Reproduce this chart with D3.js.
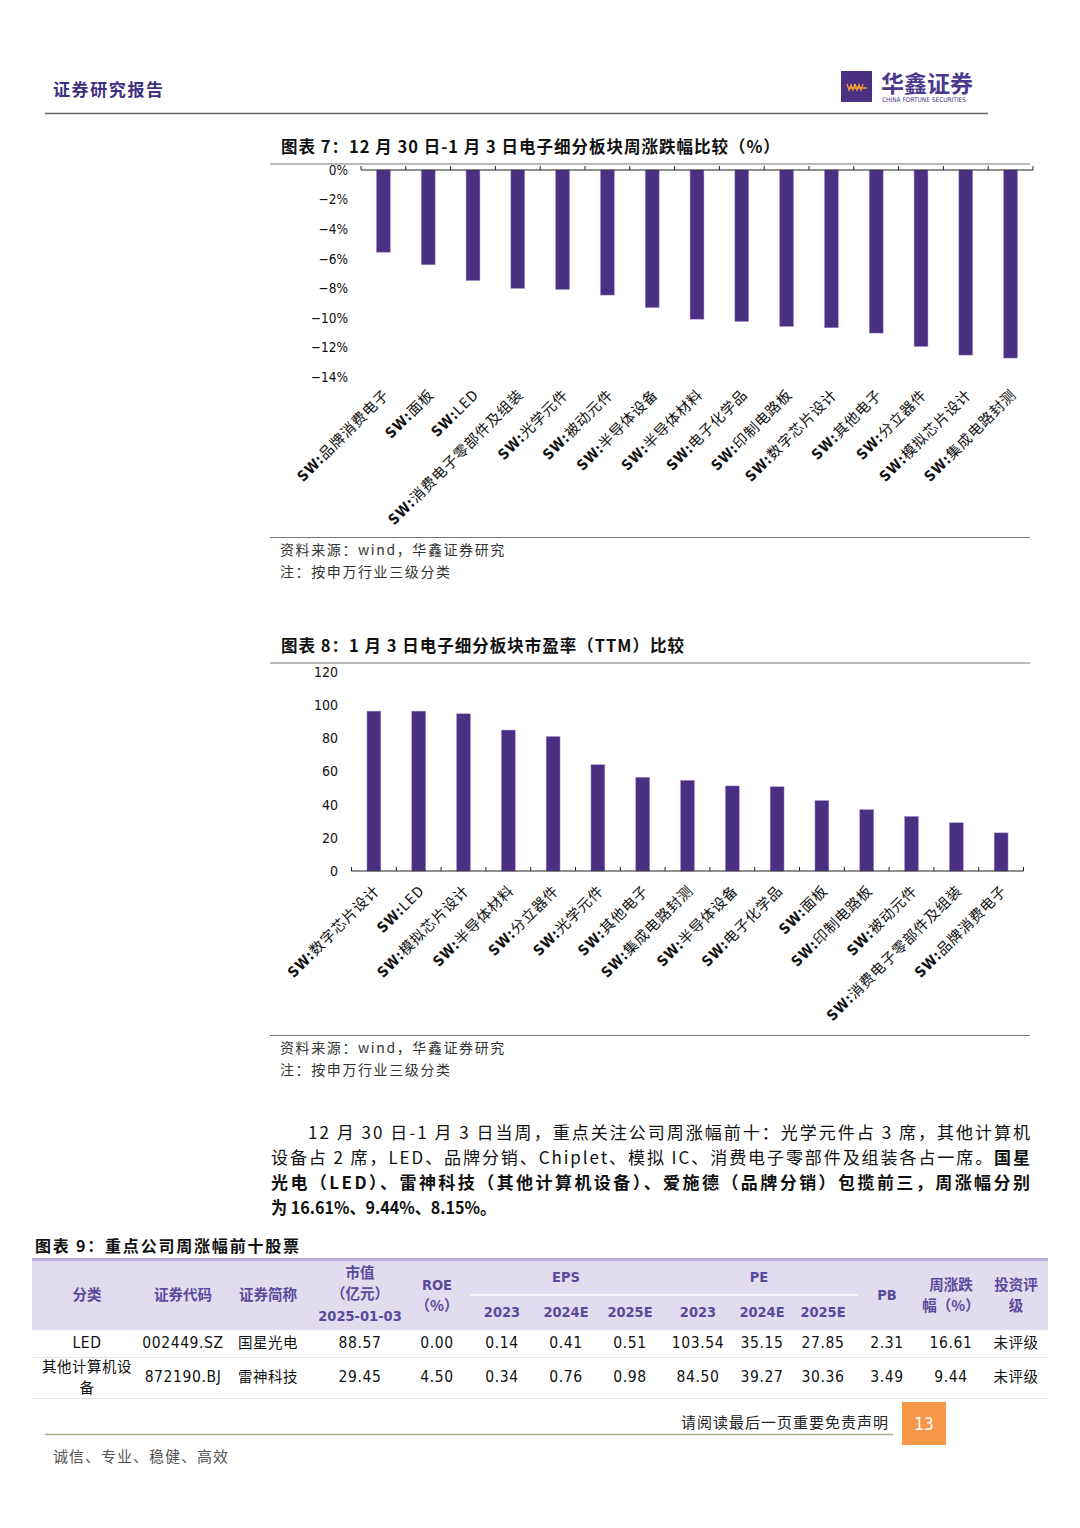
<!DOCTYPE html>
<html>
<head>
<meta charset="utf-8">
<script src="https://cdn.jsdelivr.net/npm/d3@7"></script>
<style>
  body { margin: 0; background: #fff; }
  svg { display: block; }
  .cjk { font-family: "Noto Sans CJK SC", sans-serif; }
  .num { font-family: "Liberation Sans Narrow", "DejaVu Sans Condensed", "Liberation Sans", sans-serif; }
</style>
</head>
<body>
<div id="page"></div>
<script>
// 图表7 周涨跌幅 (%)
var weekCats = ["品牌消费电子", "面板", "LED", "消费电子零部件及组装", "光学元件", "被动元件",
    "半导体设备", "半导体材料", "电子化学品", "印制电路板", "数字芯片设计", "其他电子",
    "分立器件", "模拟芯片设计", "集成电路封测"];
var weekVals = [-5.56, -6.41, -7.48, -8.01, -8.08, -8.46, -9.31, -10.09, -10.25, -10.58,
    -10.67, -11.03, -11.94, -12.52, -12.72];
var weekTicks = [0, -2, -4, -6, -8, -10, -12, -14];

// 图表8 市盈率 TTM
var peCats = ["数字芯片设计", "LED", "模拟芯片设计", "半导体材料", "分立器件", "光学元件",
    "其他电子", "集成电路封测", "半导体设备", "电子化学品", "面板", "印制电路板",
    "被动元件", "消费电子零部件及组装", "品牌消费电子"];
var peVals = [96.4, 96.4, 94.8, 85.0, 81.1, 64.1, 56.5, 54.7, 51.3, 50.8, 42.5, 37.0, 32.9, 29.1, 23.0];
var peTicks = [0, 20, 40, 60, 80, 100, 120];

// 图表9 表格
var tableRows = [
    ["LED", "002449.SZ", "国星光电", "88.57", "0.00", "0.14", "0.41", "0.51", "103.54", "35.15", "27.85", "2.31", "16.61", "未评级"],
    ["其他计算机设备", "872190.BJ", "雷神科技", "29.45", "4.50", "0.34", "0.76", "0.98", "84.50", "39.27", "30.36", "3.49", "9.44", "未评级"]
];
var subYears = ["2023", "2024E", "2025E"];

var purple = "#4b2f82";
var W = 1080, H = 1528;

var svg = d3.select("#page").append("svg")
    .attr("width", W)
    .attr("height", H);
svg.append("rect").attr("width", W).attr("height", H).attr("fill", "#fff");

// ---------- header ----------
svg.append("text").attr("class", "cjk")
    .attr("x", 53).attr("y", 96)
    .attr("font-size", 17).attr("font-weight", "bold")
    .attr("letter-spacing", 1.6)
    .attr("fill", "#3d3080")
    .text("证券研究报告");
svg.append("line").attr("x1", 45).attr("x2", 988).attr("y1", 113.5).attr("y2", 113.5)
    .attr("stroke", "#666").attr("stroke-width", 1.5);

svg.append("rect").attr("x", 841).attr("y", 71).attr("width", 31).attr("height", 31).attr("fill", purple);
svg.append("path")
    .attr("d", "M847,84 l2,6 l2,-5 l2,5 l2,-6 M855,84 l2,6 l2,-5 l2,5 l2,-6 M849,88 h18")
    .attr("fill", "none").attr("stroke", "#f0a030").attr("stroke-width", 1.4);
svg.append("text").attr("class", "cjk")
    .attr("x", 881).attr("y", 92)
    .attr("font-size", 23).attr("font-weight", "bold")
    .attr("fill", "#4b3a8c")
    .text("华鑫证券");
svg.append("text").attr("class", "num")
    .attr("x", 882).attr("y", 102)
    .attr("font-size", 6.5)
    .attr("fill", "#4b3a8c")
    .text("CHINA FORTUNE SECURITIES");

// ---------- chart helpers ----------
function chartTitle(y, txt) {
    svg.append("text").attr("class", "cjk")
        .attr("x", 281).attr("y", y)
        .attr("font-size", 16.5).attr("font-weight", "bold")
        .attr("letter-spacing", 1)
        .attr("fill", "#111")
        .text(txt);
    svg.append("line").attr("x1", 270).attr("x2", 1030).attr("y1", y + 11).attr("y2", y + 11)
        .attr("stroke", "#777").attr("stroke-width", 1.2);
}

function sourceNote(y) {
    svg.append("line").attr("x1", 270).attr("x2", 1030).attr("y1", y).attr("y2", y)
        .attr("stroke", "#777").attr("stroke-width", 1.2);
    svg.append("text").attr("class", "cjk")
        .attr("x", 280).attr("y", y + 17)
        .attr("font-size", 14).attr("fill", "#333")
        .attr("letter-spacing", 1.6)
        .text("资料来源：wind，华鑫证券研究");
    svg.append("text").attr("class", "cjk")
        .attr("x", 280).attr("y", y + 39)
        .attr("font-size", 14).attr("fill", "#333")
        .attr("letter-spacing", 1.6)
        .text("注：按申万行业三级分类");
}

function catLabels(g, cats, x, ly) {
    var lab = g.selectAll(".lab").data(cats).enter().append("text")
        .attr("class", "lab cjk")
        .attr("text-anchor", "end")
        .attr("transform", function(d) {
            return "translate(" + (x(d) + x.bandwidth() / 2 + 3) + "," + ly + ") rotate(-45)";
        })
        .attr("dy", "0.35em")
        .attr("font-size", 14.5)
        .attr("letter-spacing", 0.8)
        .attr("fill", "#111");
    lab.append("tspan").attr("font-weight", "bold").attr("class", "num").text("SW:");
    lab.append("tspan").text(function(d) { return d; });
}

// ---------- chart 7 ----------
chartTitle(153, "图表 7：12 月 30 日-1 月 3 日电子细分板块周涨跌幅比较（%）");

var x1 = d3.scaleBand().domain(weekCats).range([361, 1033]);
var y1 = d3.scaleLinear().domain([-14, 0]).range([377, 170]);
var g1 = svg.append("g");
var barW = x1.step() * 0.31;

g1.append("g")
    .attr("transform", "translate(361,0)")
    .attr("class", "num")
    .call(d3.axisLeft(y1).tickValues(weekTicks).tickSize(0).tickPadding(13)
        .tickFormat(function(d) { return d3.format("d")(d) + "%"; }))
    .call(function(a) {
        a.select(".domain").remove();
        a.selectAll("text").attr("font-size", 13.5).attr("fill", "#111")
            .attr("font-family", "Liberation Sans Narrow, DejaVu Sans Condensed, sans-serif");
    });

g1.selectAll(".bar").data(weekVals).enter().append("rect")
    .attr("x", function(d, i) { return x1(weekCats[i]) + (x1.bandwidth() - barW) / 2; })
    .attr("y", y1(0))
    .attr("width", barW)
    .attr("height", function(d) { return y1(d) - y1(0); })
    .attr("fill", purple)
    .attr("stroke", "#a594d0").attr("stroke-width", 0.5);

g1.append("line").attr("x1", x1.range()[0]).attr("x2", x1.range()[1])
    .attr("y1", y1(0)).attr("y2", y1(0)).attr("stroke", "#222").attr("stroke-width", 1.2);
g1.selectAll(".tk").data(weekCats.concat(["end"])).enter().append("line")
    .attr("x1", function(d, i) { return x1.range()[0] + i * x1.step(); })
    .attr("x2", function(d, i) { return x1.range()[0] + i * x1.step(); })
    .attr("y1", y1(0)).attr("y2", y1(0) - 4)
    .attr("stroke", "#222").attr("stroke-width", 1);

catLabels(g1, weekCats, x1, 392);
sourceNote(537.5);

// ---------- chart 8 ----------
chartTitle(652, "图表 8：1 月 3 日电子细分板块市盈率（TTM）比较");

var x2 = d3.scaleBand().domain(peCats).range([351.5, 1023.5]);
var y2 = d3.scaleLinear().domain([0, 120]).range([871, 672]);
var g2 = svg.append("g");

g2.append("g")
    .attr("transform", "translate(351,0)")
    .call(d3.axisLeft(y2).tickValues(peTicks).tickSize(0).tickPadding(13))
    .call(function(a) {
        a.select(".domain").remove();
        a.selectAll("text").attr("font-size", 14).attr("fill", "#111")
            .attr("font-family", "Liberation Sans Narrow, DejaVu Sans Condensed, sans-serif");
    });

g2.selectAll(".bar").data(peVals).enter().append("rect")
    .attr("x", function(d, i) { return x2(peCats[i]) + (x2.bandwidth() - barW) / 2; })
    .attr("y", function(d) { return y2(d); })
    .attr("width", barW)
    .attr("height", function(d) { return y2(0) - y2(d); })
    .attr("fill", purple)
    .attr("stroke", "#a594d0").attr("stroke-width", 0.5);

g2.append("line").attr("x1", x2.range()[0]).attr("x2", x2.range()[1])
    .attr("y1", y2(0)).attr("y2", y2(0)).attr("stroke", "#222").attr("stroke-width", 1.2);
g2.selectAll(".tk").data(peCats.concat(["end"])).enter().append("line")
    .attr("x1", function(d, i) { return x2.range()[0] + i * x2.step(); })
    .attr("x2", function(d, i) { return x2.range()[0] + i * x2.step(); })
    .attr("y1", y2(0)).attr("y2", y2(0) - 4)
    .attr("stroke", "#222").attr("stroke-width", 1);

catLabels(g2, peCats, x2, 888);
sourceNote(1035.5);

// ---------- paragraph ----------
var para = [
    { x: 308, len: 722, adj: "spacing", parts: [["12 月 30 日-1 月 3 日当周，重点关注公司周涨幅前十：光学元件占 3 席，其他计算机", false]] },
    { x: 271, len: 759, adj: "spacing", parts: [["设备占 2 席，LED、品牌分销、Chiplet、模拟 IC、消费电子零部件及组装各占一席。", false], ["国星", true]] },
    { x: 271, len: 759, adj: "spacing", parts: [["光电（LED）、雷神科技（其他计算机设备）、爱施德（品牌分销）包揽前三，周涨幅分别", true]] },
    { x: 271, len: 225, adj: "spacingAndGlyphs", parts: [["为 16.61%、9.44%、8.15%。", true]] }
];
para.forEach(function(p, i) {
    var t = svg.append("text").attr("class", "cjk")
        .attr("x", p.x).attr("y", 1139 + i * 25)
        .attr("font-size", 17).attr("fill", "#111")
        .attr("textLength", p.len).attr("lengthAdjust", p.adj);
    p.parts.forEach(function(s) {
        t.append("tspan").attr("font-weight", s[1] ? "bold" : "normal").text(s[0]);
    });
});

// ---------- table ----------
svg.append("text").attr("class", "cjk")
    .attr("x", 35).attr("y", 1252)
    .attr("font-size", 16).attr("font-weight", "bold").attr("fill", "#111")
    .attr("letter-spacing", 1.8)
    .text("图表 9：重点公司周涨幅前十股票");

var colX = [87, 183, 268, 360, 437, 502, 566, 630, 698, 762, 823, 887, 951, 1016];
var headColor = "#5a4a9c";
svg.append("rect").attr("x", 32).attr("y", 1259).attr("width", 1016).attr("height", 71).attr("fill", "#e2dcef");
svg.append("line").attr("x1", 32).attr("x2", 1048).attr("y1", 1259.5).attr("y2", 1259.5)
    .attr("stroke", "#bcaedb").attr("stroke-width", 3);
svg.append("line").attr("x1", 470).attr("x2", 858).attr("y1", 1295).attr("y2", 1295)
    .attr("stroke", "#fff").attr("stroke-width", 1.5);

var head = [
    { x: colX[0], y: [1300], t: ["分类"] },
    { x: colX[1], y: [1300], t: ["证券代码"] },
    { x: colX[2], y: [1300], t: ["证券简称"] },
    { x: colX[3], y: [1278, 1299, 1321], t: ["市值", "（亿元）", "2025-01-03"] },
    { x: colX[4], y: [1290, 1311], t: ["ROE", "（%）"] },
    { x: colX[6], y: [1282], t: ["EPS"] },
    { x: colX[9] - 3, y: [1282], t: ["PE"] },
    { x: colX[11], y: [1300], t: ["PB"] },
    { x: colX[12], y: [1290, 1311], t: ["周涨跌", "幅（%）"] },
    { x: colX[13], y: [1290, 1311], t: ["投资评", "级"] }
];
subYears.forEach(function(s, i) {
    head.push({ x: colX[5 + i], y: [1317], t: [s] });
    head.push({ x: colX[8 + i], y: [1317], t: [s] });
});
head.forEach(function(h) {
    h.t.forEach(function(s, j) {
        svg.append("text").attr("class", /^[\x00-\x7f]+$/.test(s) ? "num" : "cjk")
            .attr("x", h.x).attr("y", h.y[j])
            .attr("text-anchor", "middle")
            .attr("font-size", 14.5).attr("font-weight", "bold")
            .attr("fill", headColor)
            .text(s);
    });
});

var rowY = [1343, 1377];
tableRows.forEach(function(r, i) {
    r.forEach(function(c, j) {
        var ascii = /^[\x00-\x7f]+$/.test(c);
        if (j === 0 && c.length > 6) {
            [c.slice(0, 6), c.slice(6)].forEach(function(s, k) {
                svg.append("text").attr("class", "cjk")
                    .attr("x", colX[0]).attr("y", rowY[i] - 10 + k * 21 + 5)
                    .attr("text-anchor", "middle").attr("font-size", 14.5)
                    .attr("letter-spacing", 0.5).attr("fill", "#111").text(s);
            });
            return;
        }
        svg.append("text").attr("class", ascii ? "num" : "cjk")
            .attr("x", colX[j]).attr("y", rowY[i] + 5)
            .attr("text-anchor", "middle")
            .attr("font-size", ascii ? 15.5 : 14.5)
            .attr("letter-spacing", ascii ? 0.6 : 0.5)
            .attr("fill", "#111")
            .text(c);
    });
});
[1357.5, 1398.5].forEach(function(y) {
    svg.append("line").attr("x1", 32).attr("x2", 1048).attr("y1", y).attr("y2", y)
        .attr("stroke", "#e4e4ea").attr("stroke-width", 1.2);
});

// ---------- footer ----------
svg.append("text").attr("class", "cjk")
    .attr("x", 889).attr("y", 1428)
    .attr("text-anchor", "end")
    .attr("font-size", 15).attr("letter-spacing", 1)
    .attr("fill", "#222")
    .text("请阅读最后一页重要免责声明");
svg.append("line").attr("x1", 45).attr("x2", 893).attr("y1", 1434.5).attr("y2", 1434.5)
    .attr("stroke", "#a8aa88").attr("stroke-width", 1.5);
svg.append("rect").attr("x", 902).attr("y", 1402).attr("width", 44).attr("height", 43).attr("fill", "#f79646");
svg.append("text").attr("class", "num")
    .attr("x", 924).attr("y", 1430)
    .attr("text-anchor", "middle")
    .attr("font-size", 17).attr("fill", "#fff")
    .text("13");
svg.append("text").attr("class", "cjk")
    .attr("x", 53).attr("y", 1462)
    .attr("font-size", 15).attr("letter-spacing", 1)
    .attr("fill", "#555")
    .text("诚信、专业、稳健、高效");
</script>
</body>
</html>
